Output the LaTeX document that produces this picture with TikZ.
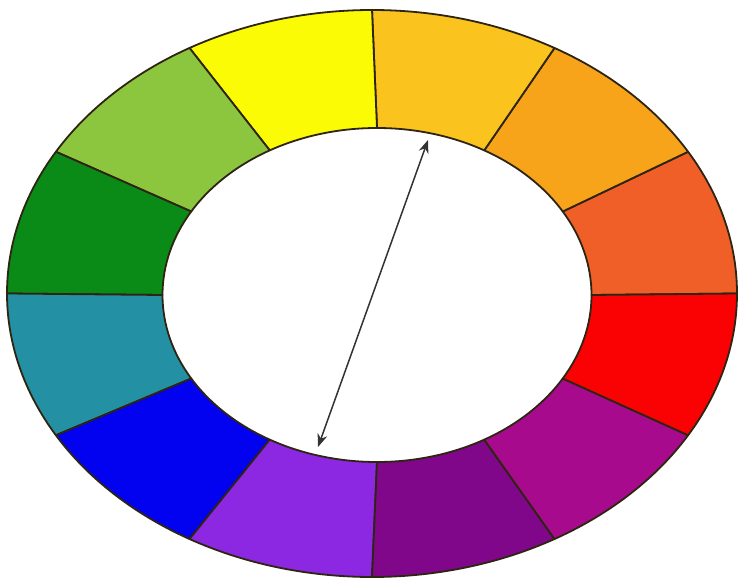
\documentclass[tikz,border=0pt]{standalone}
\usetikzlibrary{arrows.meta}
\definecolor{cRO}{HTML}{F15F28}
\definecolor{cO}{HTML}{F8A41A}
\definecolor{cYO}{HTML}{FAC31E}
\definecolor{cY}{HTML}{FBFB06}
\definecolor{cYG}{HTML}{8CC63E}
\definecolor{cG}{HTML}{0A8A16}
\definecolor{cBG}{HTML}{2490A4}
\definecolor{cB}{HTML}{0202F0}
\definecolor{cBV}{HTML}{8C28E2}
\definecolor{cV}{HTML}{80078A}
\definecolor{cRV}{HTML}{A80A8E}
\definecolor{cR}{HTML}{FA0204}
\definecolor{edge}{HTML}{2E2412}
\tikzset{
  segment/.style={draw=edge, line width=1.8pt, line join=round},
  dblarrow/.style={{Stealth[length=13pt,width=10pt]}-{Stealth[length=13pt,width=10pt]}, line width=1.5pt, draw=black!80}
}
\begin{document}
\begin{tikzpicture}[x=1pt,y=1pt]
\useasboundingbox (0,0) rectangle (739,582);
\fill[white] (0,0) rectangle (739,582);
\def\ocx{372}\def\ocy{288.5}\def\orx{365}\def\ory{283.5}
\def\icx{377}\def\icy{287}\def\irx{214.5}\def\iry{167}
\foreach \a/\c in {0/cRO,30/cO,60/cYO,90/cY,120/cYG,150/cG,180/cBG,210/cB,240/cBV,270/cV,300/cRV,330/cR}{
  \pgfmathsetmacro\b{\a+30}
  \pgfmathsetmacro\oxa{\ocx+\orx*cos(\a)}
  \pgfmathsetmacro\oya{\ocy+\ory*sin(\a)}
  \pgfmathsetmacro\ixb{\icx+\irx*cos(\b)}
  \pgfmathsetmacro\iyb{\icy+\iry*sin(\b)}
  \path[segment, fill=\c] (\oxa,\oya) arc[start angle=\a, end angle=\b, x radius=\orx pt, y radius=\ory pt]
    -- (\ixb,\iyb) arc[start angle=\b, end angle=\a, x radius=\irx pt, y radius=\iry pt] -- cycle;
}
\coordinate (tipTop) at (428,442);
\coordinate (tipBot) at (318,135);
\draw[dblarrow] (tipBot) -- (tipTop);
\end{tikzpicture}
\end{document}
